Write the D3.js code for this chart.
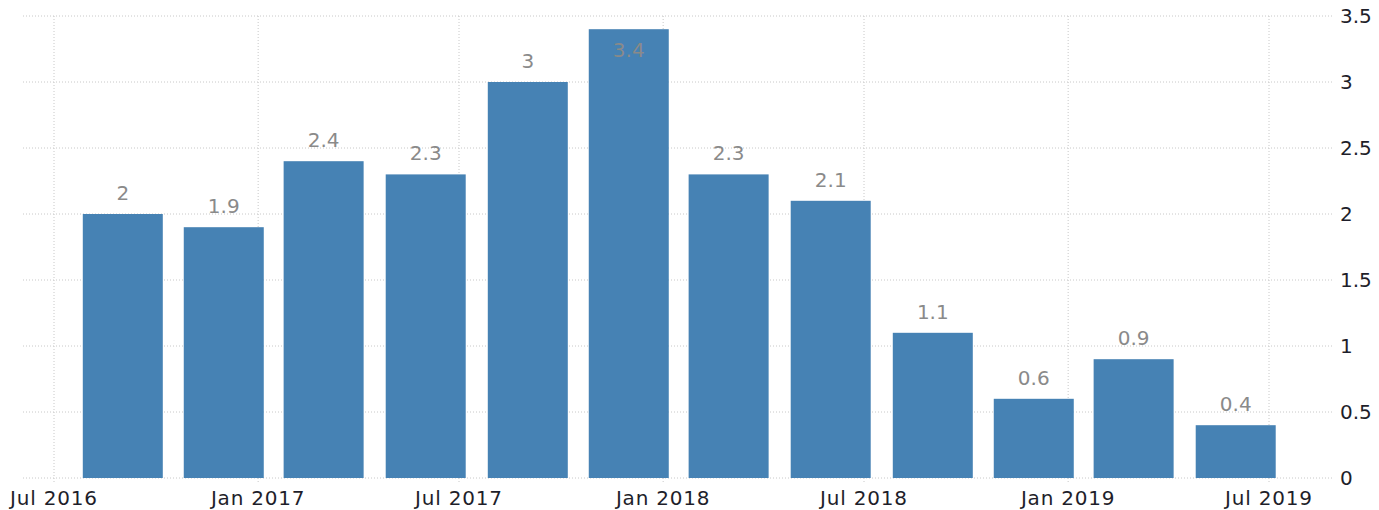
<!DOCTYPE html>
<html>
<head>
<meta charset="utf-8">
<script src="https://cdn.jsdelivr.net/npm/d3@7"></script>
<style>
  body { margin: 0; background: #fff; }
  svg { display: block; font-family: "DejaVu Sans", sans-serif; }
  .grid line { stroke: #c8c8c8; stroke-dasharray: 1,2; }
  .grid .domain { display: none; }
</style>
</head>
<body>
<script>
// quarterly values, Q3 2016 .. Q2 2019 (plotted at first day of the quarter's last month)
var dates = ["2016-09-01","2016-12-01","2017-03-01","2017-06-01","2017-09-01","2017-12-01",
             "2018-03-01","2018-06-01","2018-09-01","2018-12-01","2019-03-01","2019-06-01"];
var values = [2, 1.9, 2.4, 2.3, 3, 3.4, 2.3, 2.1, 1.1, 0.6, 0.9, 0.4];
var xTicks = ["2016-07-01","2017-01-01","2017-07-01","2018-01-01","2018-07-01","2019-01-01","2019-07-01"];
var yTicks = [0, 0.5, 1, 1.5, 2, 2.5, 3, 3.5];

var parse = d3.timeParse("%Y-%m-%d");
var data = dates.map(function(d, i) { return {date: parse(d), value: values[i]}; });

var W = 1379, H = 510;
var svg = d3.select("body").append("svg").attr("width", W).attr("height", H);

var x = d3.scaleTime()
          .domain([parse(xTicks[0]), parse(xTicks[xTicks.length - 1])])
          .range([54, 1269]);
var y = d3.scaleLinear().domain([0, 3.5]).range([478, 16]);
var barW = 80;

// horizontal gridlines
svg.append("g").attr("class", "grid")
   .selectAll("line").data(yTicks).enter().append("line")
   .attr("x1", 23).attr("x2", 1333)
   .attr("y1", function(d) { return y(d); })
   .attr("y2", function(d) { return y(d); });

// vertical gridlines + tick marks
svg.append("g").attr("class", "grid")
   .selectAll("line").data(xTicks).enter().append("line")
   .attr("x1", function(d) { return x(parse(d)); })
   .attr("x2", function(d) { return x(parse(d)); })
   .attr("y1", y(3.5)).attr("y2", 484);

// bars
svg.append("g").selectAll("rect").data(data).enter().append("rect")
   .attr("x", function(d) { return x(d.date) - barW / 2; })
   .attr("width", barW)
   .attr("y", function(d) { return y(d.value); })
   .attr("height", function(d) { return y(0) - y(d.value); })
   .attr("fill", "#4682b4");

// value labels
svg.append("g").selectAll("text").data(data).enter().append("text")
   .attr("x", function(d) { return x(d.date); })
   .attr("y", function(d) { return Math.max(y(d.value) - 14, 57); })
   .attr("text-anchor", "middle")
   .attr("font-size", 20)
   .attr("fill", "#8a8a8a")
   .text(function(d) { return d.value; });

// x axis labels
var fmt = d3.timeFormat("%b %Y");
svg.append("g").selectAll("text").data(xTicks).enter().append("text")
   .attr("x", function(d) { return x(parse(d)); })
   .attr("y", 505)
   .attr("text-anchor", "middle")
   .attr("font-size", 20)
   .attr("letter-spacing", 0.8)
   .attr("fill", "#1e1e2a")
   .text(function(d) { return fmt(parse(d)); });

// y axis labels (right side)
svg.append("g").selectAll("text").data(yTicks).enter().append("text")
   .attr("x", 1340)
   .attr("y", function(d) { return y(d); })
   .attr("dy", "0.35em")
   .attr("font-size", 20)
   .attr("fill", "#1e1e2a")
   .text(function(d) { return d; });
</script>
</body>
</html>
